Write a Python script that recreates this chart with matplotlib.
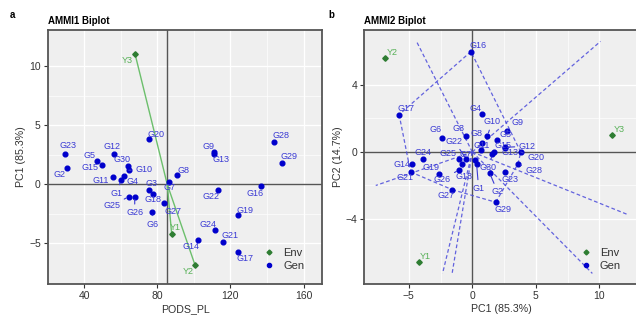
import numpy as np
import matplotlib
matplotlib.use('Agg')
import matplotlib.pyplot as plt
from matplotlib.lines import Line2D

plt.rcParams['font.family'] = ['Liberation Sans', 'DejaVu Sans']

# ---- data ----
genotipos = ['G%d' % i for i in range(1, 31)]
pods_pl = [60.0, 30.4, 75.6, 62.0, 46.7, 77.3, 86.4, 90.6, 111.0, 64.3,
           55.8, 56.0, 111.2, 102.4, 49.7, 136.7, 124.3, 77.4, 124.3, 75.6,
           116.1, 113.3, 29.7, 111.4, 64.3, 67.6, 83.8, 144.0, 148.3, 64.0]
pc1_gen = [0.34, 1.36, -0.48, 0.73, 1.95, -2.37, 0.20, 0.76, 2.71, 1.19,
           0.65, 2.60, 2.57, -4.72, 1.67, -0.11, -5.76, -0.79, -2.63, 3.81,
           -4.86, -0.48, 2.60, -3.90, -1.05, -1.05, -1.58, 3.59, 1.84, 1.58]
pc2_gen = [-0.74, -1.25, 0.96, 2.25, 0.74, 0.86, -0.45, 0.52, 1.25, 0.98,
           0.10, 0.28, 0.24, -0.72, -0.02, 5.99, 2.23, -0.74, -1.29, 0.00,
           -1.19, -0.42, -1.18, -0.40, -0.40, -1.07, -2.25, -0.72, -3.00, -0.15]

ambientes = ['Y1', 'Y2', 'Y3']
pods_env = [87.8, 100.6, 67.8]
pc1_env = [-4.17, -6.84, 11.03]
pc2_env = [-6.59, 5.59, 1.01]
media_general = 85.4

# ---- label offsets (pixels, y up) and which get a connector ----
off_izq = {'G1': (-4, -13), 'G2': (-7, -6), 'G3': (2, 6), 'G4': (8, -6), 'G5': (-7, 6),
           'G6': (0, -12), 'G7': (0, -6), 'G8': (7, 5), 'G9': (-6, 6), 'G10': (15, 1),
           'G11': (-12, -4), 'G12': (-2, 7), 'G13': (7, -6), 'G14': (-7, -7), 'G15': (-12, -3),
           'G16': (-6, -8), 'G17': (7, -6), 'G18': (0, -6), 'G19': (7, 5), 'G20': (7, 5),
           'G21': (7, 6), 'G22': (-7, -7), 'G23': (3, 8), 'G24': (-7, 6), 'G25': (-17, -9),
           'G26': (0, -16), 'G27': (9, -9), 'G28': (7, 6), 'G29': (7, 6), 'G30': (-6, 6),
           'Y1': (4, 6), 'Y2': (-7, -6), 'Y3': (-8, -6)}
links_izq = {'G1', 'G6', 'G10', 'G25', 'G26'}

off_der = {'G1': (2, -24), 'G2': (8, -19), 'G3': (-8, 7), 'G4': (-6, 6), 'G5': (8, 5),
           'G6': (-7, 8), 'G7': (-9, 5), 'G8': (-5, 10), 'G9': (11, 9), 'G10': (5, 14),
           'G11': (1, 5), 'G12': (22, 1), 'G13': (5, -5), 'G14': (-10, 0), 'G15': (9, 7),
           'G16': (7, 6), 'G17': (7, 6), 'G18': (2, -12), 'G19': (-8, 6), 'G20': (15, -6),
           'G21': (-6, -6), 'G22': (-12, 18), 'G23': (5, -8), 'G24': (0, 6), 'G25': (-11, 5),
           'G26': (-17, -10), 'G27': (-6, -6), 'G28': (16, -6), 'G29': (7, -7), 'G30': (-4, -13),
           'Y1': (6, 6), 'Y2': (7, 6), 'Y3': (7, 6)}
links_der = {'G1', 'G2', 'G9', 'G10', 'G12', 'G18', 'G20', 'G22', 'G26', 'G28', 'G30'}

AZUL = '#0000CC'
AZUL_TXT = '#3A3AD4'
AZUL_DASH = '#4A4ADB'
VERDE = '#2E7D32'
VERDE_TXT = '#56B056'
VERDE_LINEA = '#6CBF6C'
GRIS = '#555555'
FONDO = '#EFEFEF'


def hull(px, py):
    pts = sorted(set(zip(px, py)))

    def cross(o, a, b):
        return (a[0] - o[0]) * (b[1] - o[1]) - (a[1] - o[1]) * (b[0] - o[0])

    low, up = [], []
    for p in pts:
        while len(low) >= 2 and cross(low[-2], low[-1], p) <= 0:
            low.pop()
        low.append(p)
    for p in reversed(pts):
        while len(up) >= 2 and cross(up[-2], up[-1], p) <= 0:
            up.pop()
        up.append(p)
    return low[:-1] + up[:-1]


def estilo(ax, xlim, ylim, xticks, yticks, titulo, xlabel, ylabel):
    ax.set_facecolor(FONDO)
    ax.set_xlim(*xlim)
    ax.set_ylim(*ylim)
    ax.set_xticks(xticks)
    ax.set_yticks(yticks)
    mx = [(a + b) / 2 for a, b in zip(xticks[:-1], xticks[1:])]
    my = [(a + b) / 2 for a, b in zip(yticks[:-1], yticks[1:])]
    ax.set_xticks(mx, minor=True)
    ax.set_yticks(my, minor=True)
    ax.grid(which='major', color='white', lw=0.9)
    ax.grid(which='minor', color='white', lw=0.45)
    ax.set_axisbelow(True)
    ax.tick_params(which='major', length=3, width=0.8, color='#333333',
                   labelsize=7.5, labelcolor='#333333', pad=2)
    ax.tick_params(which='minor', length=0)
    for s in ax.spines.values():
        s.set_color(GRIS)
        s.set_linewidth(1.3)
    ax.set_xlabel(xlabel, fontsize=7.7, color='#333333', labelpad=2)
    ax.set_ylabel(ylabel, fontsize=7.7, color='#333333', labelpad=2)
    ax.set_title(titulo, fontsize=7, fontweight='bold', loc='left', pad=4)


def etiquetas(ax, xs, ys, nombres, offs, links, color):
    for x, y, n in zip(xs, ys, nombres):
        dx, dy = offs[n]
        kw = {}
        if n in links:
            kw['arrowprops'] = dict(arrowstyle='-', color=color, lw=0.8, shrinkA=1, shrinkB=2)
        ax.annotate(n, (x, y), xytext=(dx, dy), textcoords='offset pixels',
                    ha='center', va='center', fontsize=6.5, color=color, **kw)


def leyenda(ax, anchor):
    h = [Line2D([], [], ls='', marker='D', ms=2.5, color=VERDE, label='Env'),
         Line2D([], [], ls='', marker='o', ms=3, color=AZUL, label='Gen')]
    ax.legend(handles=h, loc='lower left', bbox_to_anchor=anchor, frameon=False,
              fontsize=8, handlelength=0.8, handletextpad=0.9, labelspacing=0.3,
              borderpad=0.2, labelcolor='#333333')


fig = plt.figure(figsize=(6.36, 3.30), dpi=100)

# ---- a: AMMI1 ----
ax1 = fig.add_axes([0.075, 0.1394, 0.4318, 0.7697])
estilo(ax1, (19.96, 170.3), (-8.45, 13.08), [40, 80, 120, 160], [-5, 0, 5, 10],
       'AMMI1 Biplot', 'PODS_PL', 'PC1 (85.3%)')
ax1.axhline(0, color=GRIS, lw=1.0, zorder=1)
ax1.axvline(media_general, color=GRIS, lw=1.0, zorder=1)
for xe, ye in zip(pods_env, pc1_env):
    ax1.plot([media_general, xe], [0, ye], color=VERDE_LINEA, lw=1.0, zorder=2)
ax1.plot(pods_pl, pc1_gen, 'o', ms=3.4, color=AZUL, zorder=3)
ax1.plot(pods_env, pc1_env, 'D', ms=2.8, color=VERDE, zorder=3)
etiquetas(ax1, pods_pl, pc1_gen, genotipos, off_izq, links_izq, AZUL_TXT)
etiquetas(ax1, pods_env, pc1_env, ambientes, off_izq, set(), VERDE_TXT)
leyenda(ax1, (0.76, 0.02))

# ---- b: AMMI2 ----
ax2 = fig.add_axes([0.5728, 0.1394, 0.4324, 0.7697])
estilo(ax2, (-8.5, 13.14), (-7.88, 7.28), [-5, 0, 5, 10], [-4, 0, 4],
       'AMMI2 Biplot', 'PC1 (85.3%)', 'PC2 (14.7%)')
ax2.axhline(0, color=GRIS, lw=1.0, zorder=1)
ax2.axvline(0, color=GRIS, lw=1.0, zorder=1)

# convex hull of genotypes + perpendicular rays from the origin
vert = hull(pc1_gen, pc2_gen)
caja = (-7.6, 12.2, -7.25, 6.6)
for i in range(len(vert)):
    p = np.array(vert[i])
    q = np.array(vert[(i + 1) % len(vert)])
    ax2.plot([p[0], q[0]], [p[1], q[1]], color=AZUL_DASH, alpha=0.85, lw=0.9,
             ls=(0, (3, 2)), zorder=2)
    d = q - p
    n = np.array([d[1], -d[0]])
    if n @ p < 0:
        n = -n
    n = n / np.linalg.norm(n)
    ts = []
    for k, lim in ((0, caja[0]), (0, caja[1]), (1, caja[2]), (1, caja[3])):
        if n[k] != 0 and lim / n[k] > 0:
            ts.append(lim / n[k])
    t = min(ts)
    ax2.plot([0, n[0] * t], [0, n[1] * t], color=AZUL_DASH, alpha=0.85, lw=0.9,
             ls=(0, (3, 2)), zorder=2)

ax2.plot(pc1_gen, pc2_gen, 'o', ms=3.4, color=AZUL, zorder=3)
ax2.plot(pc1_env, pc2_env, 'D', ms=2.8, color=VERDE, zorder=3)
etiquetas(ax2, pc1_gen, pc2_gen, genotipos, off_der, links_der, AZUL_TXT)
etiquetas(ax2, pc1_env, pc2_env, ambientes, off_der, set(), VERDE_TXT)
leyenda(ax2, (0.76, 0.02))

fig.text(12 / 636, 1 - 15 / 330, 'a', fontsize=7, fontweight='bold', ha='center', va='center')
fig.text(331 / 636, 1 - 15 / 330, 'b', fontsize=7, fontweight='bold', ha='center', va='center')

fig.savefig('out.png', dpi=100)
